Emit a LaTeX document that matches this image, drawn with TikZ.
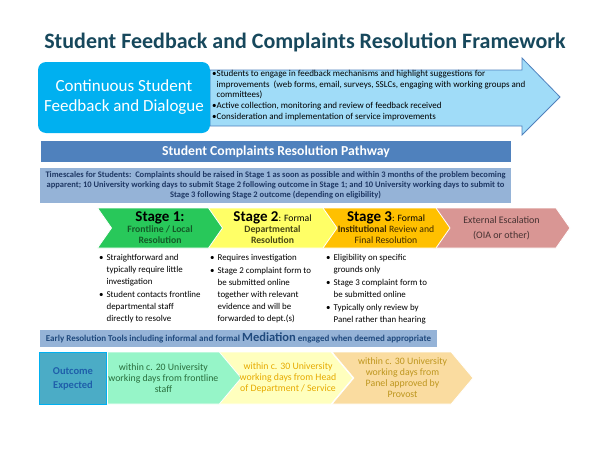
\documentclass[tikz,border=0pt]{standalone}
\usepackage{fontspec}
\setmainfont{Carlito}
\usetikzlibrary{shapes.symbols,positioning}
\definecolor{titleteal}{RGB}{23,72,92}
\definecolor{cyanbox}{RGB}{0,176,240}
\definecolor{arrowfill}{RGB}{160,220,248}
\definecolor{arrowedge}{RGB}{79,129,189}
\definecolor{barblue}{RGB}{79,129,189}
\definecolor{paleblue}{RGB}{149,179,215}
\definecolor{navytext}{RGB}{31,56,100}
\definecolor{toolstext}{RGB}{31,73,125}
\definecolor{stagegreen}{RGB}{40,200,90}
\definecolor{stageyellow}{RGB}{255,255,102}
\definecolor{stageorange}{RGB}{255,192,0}
\definecolor{stagepink}{RGB}{217,150,148}
\definecolor{greentext}{RGB}{20,90,40}
\definecolor{olivetext}{RGB}{70,70,20}
\definecolor{browntext}{RGB}{60,40,0}
\definecolor{pinktext}{RGB}{70,50,50}
\definecolor{outcomefill}{RGB}{75,172,198}
\definecolor{outcometext}{RGB}{31,95,170}
\definecolor{mintfill}{RGB}{150,245,200}
\definecolor{minttext}{RGB}{40,110,60}
\definecolor{creamfill}{RGB}{255,255,190}
\definecolor{creamtext}{RGB}{230,170,0}
\definecolor{tanfill}{RGB}{250,220,160}
\definecolor{tantext}{RGB}{190,150,30}
\begin{document}
\begin{tikzpicture}[
                x=1pt, y=-1pt,
                stagechev/.style={signal, signal to=east, signal from=west, signal pointer angle=110,
                  minimum height=40pt, inner sep=1pt, draw=white, line width=0.8pt, align=center},
                outcomechev/.style={signal, signal to=east, signal pointer angle=100,
                  minimum height=52pt, inner sep=1pt, draw=white, line width=0.8pt, align=center,
                  font=\fontsize{9.8}{11}\selectfont},
                bullets/.style={anchor=north west, inner sep=0pt, align=left,
                  font=\fontsize{8.9}{12}\selectfont}
                ]
                \useasboundingbox (0,0) rectangle (600,450);

                \node [font=\fontsize{22}{24}\selectfont\bfseries, text=titleteal] (title) at (305,42)
                  {Student Feedback and Complaints Resolution Framework};

                \coordinate (arrowtip) at (560,97);
                \draw [fill=arrowfill, draw=arrowedge, line width=0.8pt]
                  (210,70) -- (522,70) -- (522,58) -- (arrowtip) -- (522,135) -- (522,126) -- (210,126) -- cycle;
                \node [fill=cyanbox, rounded corners=8pt, minimum width=172pt, minimum height=71pt,
                  text=white, align=center, font=\fontsize{17}{20}\selectfont] (dialogue) at (124,97.5)
                  {Continuous Student\\Feedback and Dialogue};
                \node [anchor=north west, inner sep=0pt, align=left, font=\fontsize{9}{10.5}\selectfont] (feedbacklist) at (212,70.5)
                  {\textbullet Students to engage in feedback mechanisms and highlight suggestions for\\
                  \phantom{\textbullet}improvements\ \ (web forms, email, surveys, SSLCs, engaging with working groups and\\
                  \phantom{\textbullet}committees)\\[0.5pt]
                  \textbullet Active collection, monitoring and review of feedback received\\[0.5pt]
                  \textbullet Consideration and implementation of service improvements};

                \node [fill=barblue, minimum width=470pt, minimum height=21pt, text=white,
                  font=\fontsize{13.7}{15}\selectfont\bfseries] (pathway) at (276,151.5)
                  {Student Complaints Resolution Pathway};
                \node [fill=paleblue, minimum width=471pt, minimum height=32pt, text=navytext, align=center,
                  font=\fontsize{8.5}{10}\selectfont\bfseries] (timescales) at (275.5,185.5)
                  {Timescales for Students:\ \ Complaints should be raised in Stage 1 as soon as possible and within 3 months of the problem becoming\\
                  apparent; 10 University working days to submit Stage 2 following outcome in Stage 1; and 10 University working days to submit to\\
                  Stage 3 following Stage 2 outcome (depending on eligibility)};

                \node [stagechev, fill=stagepink, minimum width=137pt, text=pinktext,
                  font=\fontsize{10}{15}\selectfont] (external) at (501.5,228)
                  {External Escalation\\(OIA or other)};
                \node [stagechev, fill=stageorange, minimum width=128pt, text=browntext,
                  font=\fontsize{9.7}{11}\selectfont] (stagethree) at (386,228)
                  {{\fontsize{15}{15}\selectfont\bfseries\color{black}Stage 3}{\color{black}: Formal}\\
                  \textbf{Institutional} Review and\\ Final Resolution};
                \node [stagechev, fill=stageyellow, minimum width=129pt, text=olivetext,
                  font=\fontsize{9.7}{11}\selectfont\bfseries] (stagetwo) at (272.5,228)
                  {{\fontsize{15}{15}\selectfont\color{black}Stage 2}{\mdseries\color{black}: Formal}\\
                  Departmental\\ Resolution};
                \node [stagechev, fill=stagegreen, minimum width=125pt, text=greentext,
                  font=\fontsize{9.7}{11}\selectfont\bfseries] (stageone) at (160,228)
                  {{\fontsize{15}{15}\selectfont\color{black}Stage 1:}\\
                  Frontline / Local\\ Resolution};

                \node [bullets] (stageonelist) at (99,252)
                  {\begin{tabular}{@{}l@{\hspace{3pt}}l@{}}
                  \textbullet & Straightforward and\\
                  & typically require little\\
                  & investigation\\[1pt]
                  \textbullet & Student contacts frontline\\
                  & departmental staff\\
                  & directly to resolve
                  \end{tabular}};
                \node [bullets] (stagetwolist) at (210,252)
                  {\begin{tabular}{@{}l@{\hspace{3pt}}l@{}}
                  \textbullet & Requires investigation\\[1pt]
                  \textbullet & Stage 2 complaint form to\\
                  & be submitted online\\
                  & together with relevant\\
                  & evidence and will be\\
                  & forwarded to dept.(s)
                  \end{tabular}};
                \node [bullets] (stagethreelist) at (326,252)
                  {\begin{tabular}{@{}l@{\hspace{3pt}}l@{}}
                  \textbullet & Eligibility on specific\\
                  & grounds only\\[1pt]
                  \textbullet & Stage 3 complaint form to\\
                  & be submitted online\\[1pt]
                  \textbullet & Typically only review by\\
                  & Panel rather than hearing
                  \end{tabular}};

                \node [fill=paleblue, minimum width=397pt, minimum height=17pt, text=toolstext,
                  font=\fontsize{9}{10}\selectfont\bfseries] (earlytools) at (238.5,338)
                  {Early Resolution Tools including informal and formal {\fontsize{12.5}{12}\selectfont Mediation} engaged when deemed appropriate};

                \node [outcomechev, fill=tanfill, minimum width=141pt, text=tantext, signal from=west] (panelbox) at (402.5,378)
                  {within c. 30 University\\working days from\\Panel approved by\\Provost};
                \node [outcomechev, fill=creamfill, minimum width=150pt, signal from=west] (headbox) at (278,378) {};
                \node [outcomechev, fill=mintfill, minimum width=118pt, text=minttext, anchor=west] (frontlinebox) at (107,378)
                  {within c. 20 University\\working days from frontline\\staff};
                \node [text=creamtext, align=center, font=\fontsize{9.8}{11}\selectfont] (headtext) at (288,378)
                  {within c. 30 University\\working days from Head\\of Department / Service};
                \node [fill=outcomefill, draw=cyanbox, line width=1pt, minimum width=67pt, minimum height=52pt,
                  text=outcometext, align=center, font=\fontsize{10.5}{14}\selectfont\bfseries] (outcome) at (73,378.5)
                  {Outcome\\Expected};
            \end{tikzpicture}
\end{document}
